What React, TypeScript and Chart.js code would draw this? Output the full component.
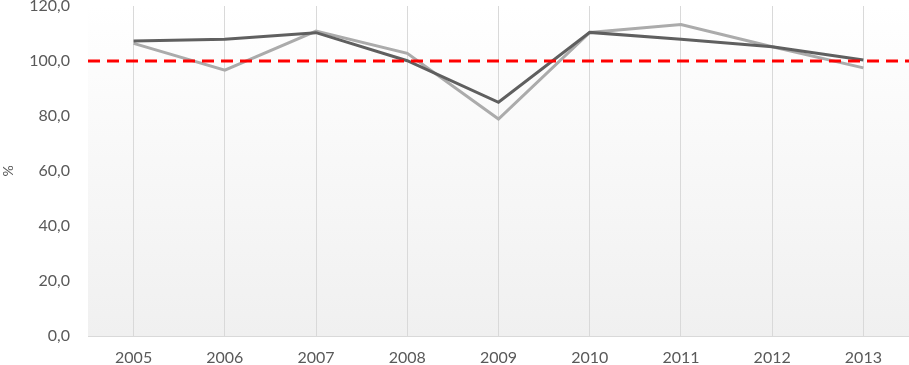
import React, { useEffect, useRef } from "react";
import { Chart, registerables } from "chart.js";

Chart.register(...registerables);

const years = ["2005", "2006", "2007", "2008", "2009", "2010", "2011", "2012", "2013"];
const seriesDark = [107.3, 107.9, 110.3, 100.1, 85.0, 110.4, 107.9, 105.2, 100.4];
const seriesLight = [106.4, 96.7, 110.9, 102.8, 78.9, 110.4, 113.3, 105.2, 97.5];
const referenceLine = [100, 100];
const yMin = 0;
const yMax = 120;
const yStep = 20;

const FONT = "Lato, 'Open Sans', sans-serif";
const TEXT = "#595959";

const bgPlugin = {
  id: "plotBg",
  beforeDraw(chart: any) {
    const { ctx, chartArea } = chart;
    if (!chartArea) return;
    const g = ctx.createLinearGradient(0, chartArea.top, 0, chartArea.bottom);
    g.addColorStop(0, "#ffffff");
    g.addColorStop(1, "#f0f0f0");
    ctx.save();
    ctx.fillStyle = g;
    ctx.fillRect(chartArea.left, chartArea.top, chartArea.right - chartArea.left, chartArea.bottom - chartArea.top);
    ctx.restore();
  },
};

export default function App() {
  const ref = useRef<HTMLCanvasElement | null>(null);
  useEffect(() => {
    if (!ref.current) return;
    const chart = new Chart(ref.current, {
      type: "line",
      data: {
        labels: years,
        datasets: [
          {
            label: "ref",
            data: referenceLine,
            xAxisID: "x2",
            borderColor: "#ff0000",
            borderWidth: 3,
            borderDash: [12, 7],
            pointRadius: 0,
            order: 0,
          },
          {
            label: "A",
            data: seriesDark,
            borderColor: "#5f5f5f",
            borderWidth: 3,
            pointRadius: 0,
            tension: 0,
            order: 1,
          },
          {
            label: "B",
            data: seriesLight,
            borderColor: "#ababab",
            borderWidth: 3,
            pointRadius: 0,
            tension: 0,
            order: 2,
          },
        ] as any,
      },
      plugins: [bgPlugin],
      options: {
        animation: false,
        responsive: false,
        maintainAspectRatio: false,
        layout: { padding: { top: 6, right: 0, left: 0, bottom: 0 } },
        plugins: { legend: { display: false }, tooltip: { enabled: false } },
        scales: {
          x: {
            type: "category",
            offset: true,
            grid: { display: true, offset: false, color: "#d9d9d9", lineWidth: 1, drawTicks: false },
            border: { display: true, color: "#d9d9d9", width: 1 },
            ticks: { color: TEXT, font: { family: FONT, size: 16 }, padding: 12, maxRotation: 0 },
            afterFit(scale: any) {
              scale.height = 29;
              scale.paddingLeft = 0;
              scale.paddingRight = 0;
            },
          } as any,
          x2: {
            type: "category",
            labels: ["a", "b"],
            offset: false,
            display: false,
          } as any,
          y: {
            type: "linear",
            min: yMin,
            max: yMax,
            ticks: {
              stepSize: yStep,
              color: TEXT,
              font: { family: FONT, size: 16 },
              padding: 18,
              callback: (v: any) => Number(v).toFixed(1).replace(".", ","),
            },
            grid: { display: false, drawTicks: false },
            border: { display: false },
            title: {
              display: true,
              text: "%",
              color: TEXT,
              font: { family: FONT, size: 14 },
              padding: 0,
            },
            afterFit(scale: any) {
              scale.width = 88;
              scale.paddingTop = 0;
              scale.paddingBottom = 0;
            },
          } as any,
        },
      },
    });
    return () => chart.destroy();
  }, []);
  return (
    <div style={{ position: "absolute", left: 0, top: 0, width: 909, height: 365, background: "#fff" }}>
      <canvas ref={ref} width={909} height={365} style={{ width: 909, height: 365, display: "block" }} />
    </div>
  );
}
